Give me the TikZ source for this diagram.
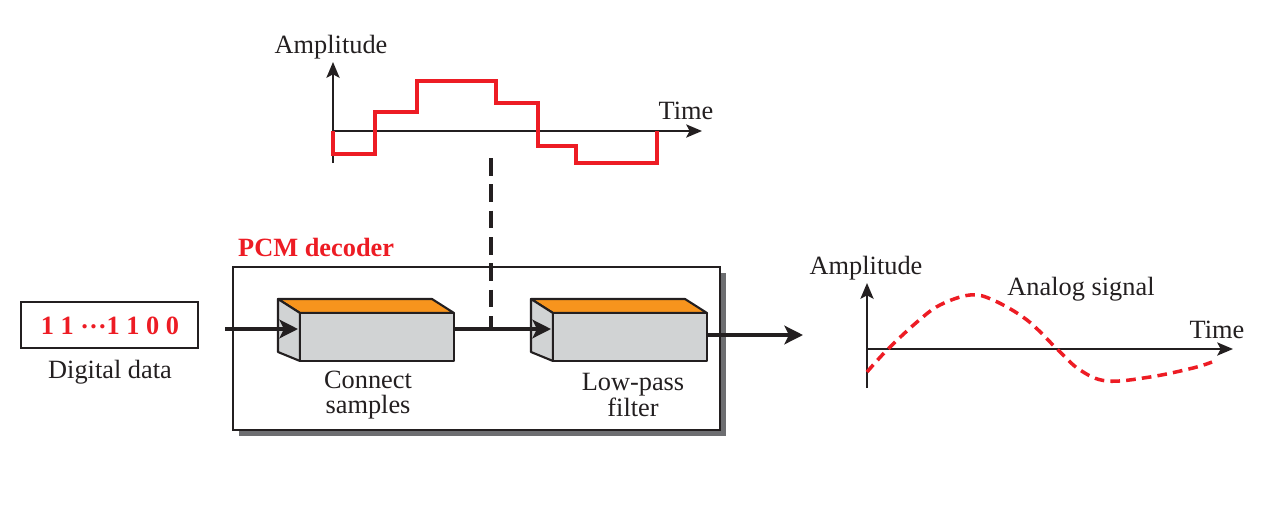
\documentclass[tikz,border=0pt]{standalone}
\usepackage{fontspec}
\setmainfont{Liberation Serif}
\usepackage{xcolor}
\usetikzlibrary{arrows.meta}
\definecolor{ink}{HTML}{231F20}
\definecolor{pcmred}{HTML}{ED1C24}
\definecolor{lidorange}{HTML}{F7941D}
\definecolor{boxgray}{HTML}{D1D3D4}
\definecolor{shadowgray}{HTML}{6D6E71}

\begin{document}
\begin{tikzpicture}[x=0.02cm, y=-0.02cm,
  font=\fontsize{15}{14.5}\selectfont, text=ink,
  axis/.style={draw=ink, line width=1.2pt, -{Stealth[length=9pt,width=7.5pt,inset=2pt]}},
  flow/.style={draw=ink, line width=2pt, -{Stealth[length=10.5pt,width=10.5pt,inset=2.5pt]}},
  face/.style={draw=ink, line width=1.2pt, line join=round}]
\useasboundingbox (0,0) rectangle (1277,511);

% sampled signal
\coordinate (A1) at (333,131);
\draw[axis] (333,163) -- (333,62);
\draw[axis] (A1) -- (702,131);
\node (amp1) at (331,47) {Amplitude};
\node (time1) at (686,111) {Time};
\draw[pcmred, line width=1.8pt] (A1) -- (333,154) -- (375,154) -- (375,112) -- (417,112)
  -- (417,81) -- (496,81) -- (496,103) -- (538,103) -- (538,146) -- (576,146)
  -- (576,163) -- (657,163) -- (657,131);

% digital data
\draw[ink, line width=1.2pt] (21,302) rectangle (198,348);
\node[text=pcmred, font=\fontsize{15}{17}\selectfont\bfseries] (bits) at (110,326) {1 1 \raisebox{0.22em}{…}1 1 0 0};
\node (dlabel) at (110,372) {Digital data};

% decoder box
\fill[shadowgray] (239,273) rectangle (726,436);
\filldraw[fill=white, draw=ink, line width=1.1pt] (233,267) rectangle (720,430);
\node[anchor=base west, text=pcmred, font=\fontsize{15}{17}\selectfont\bfseries] (pcm) at (232,256) {PCM decoder};

\foreach \x/\n in {300/cs, 553/lp}{
  \filldraw[face, fill=lidorange] (\x-22,299) -- (\x+132,299) -- (\x+154,313) -- (\x,313) -- cycle;
  \filldraw[face, fill=boxgray] (\x-22,299) -- (\x,313) -- (\x,361) -- (\x-22,352) -- cycle;
  \filldraw[face, fill=boxgray] (\x,313) rectangle (\x+154,361);
  \coordinate (\n-in) at (\x-2,329);
  \coordinate (\n-out) at (\x+154,329);
}
\coordinate (lp-exit) at (707,335);
\node[align=center] (cslabel) at (368,395) {Connect\\samples};
\node[align=center] (lplabel) at (633,395) {Low-pass\\filter};

% connectors
\coordinate (din) at (225,329);
\coordinate (dout) at (803,335);
\coordinate (tap) at (491,158);
\draw[ink, line width=1.8pt, dash pattern=on 10pt off 5pt] (tap) -- (491,329);
\draw[flow] (din) -- (cs-in);
\draw[flow] (cs-out) -- (lp-in);
\draw[flow] (lp-exit) -- (dout);

% analog signal
\coordinate (A2) at (867,349);
\draw[axis] (867,388) -- (867,283);
\draw[axis] (A2) -- (1233,349);
\node (amp2) at (866,268) {Amplitude};
\node (time2) at (1217,330) {Time};
\node (analog) at (1081,289) {Analog signal};
\draw[pcmred, line width=2pt, dash pattern=on 5.5pt off 3.5pt] plot[smooth, tension=0.6] coordinates {
  (867,372) (887,350) (917,322) (940,305) (970,295) (993,300) (1027,320) (1058,350)
  (1080,370) (1107,381) (1150,377) (1193,368) (1212,362)};
\end{tikzpicture}
\end{document}
